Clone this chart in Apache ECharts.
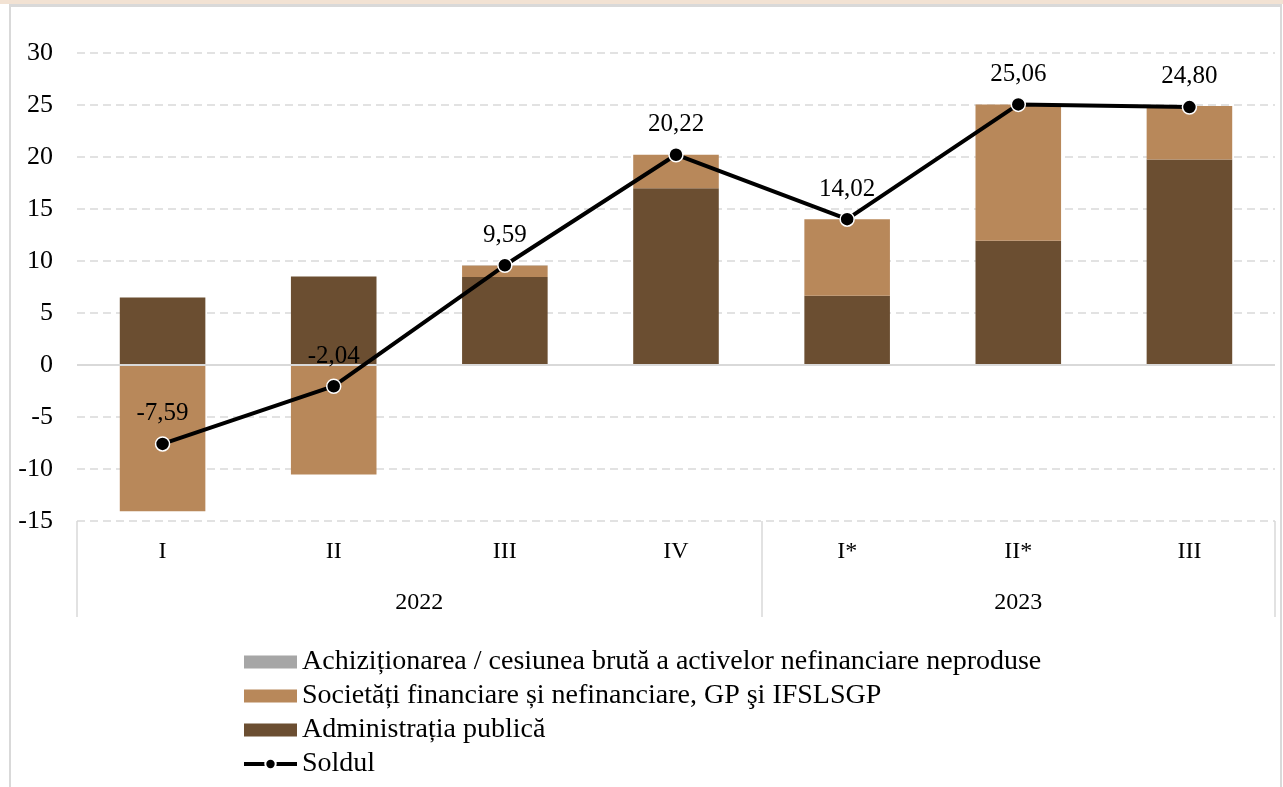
<!DOCTYPE html>
<html>
<head>
<meta charset="utf-8">
<script src="https://cdn.jsdelivr.net/npm/echarts@6/dist/echarts.min.js"></script>
<style>
  html, body { margin: 0; padding: 0; background: #fff; }
  #chart { position: absolute; left: 0; top: 0; width: 1283px; height: 787px; }
  .band { position: absolute; left: 0; top: 0; width: 1283px; height: 4px; background: #f2e2d3; }
  .frame { position: absolute; left: 9px; top: 4px; width: 1269px; height: 800px;
           border-top: 3px solid #d9d9d9; border-left: 2px solid #d9d9d9; border-right: 2px solid #d9d9d9;
           pointer-events: none; }
</style>
</head>
<body>
<div id="chart"></div>
<div class="band"></div>
<div class="frame"></div>
<script>
// trimestre si ani
var quarters = ['I', 'II', 'III', 'IV', 'I*', 'II*', 'III'];
var years = ['2022', '2023'];

// valori (mld. lei)
var administratia = [6.48, 8.50, 8.45, 17.00, 6.65, 11.95, 19.75];
var societati = [-14.07, -10.54, 1.12, 3.22, 7.37, 13.11, 5.15];
var achizitionarea = [0.00, 0.00, 0.02, 0.00, 0.00, 0.00, -0.10];
var soldul = [-7.59, -2.04, 9.59, 20.22, 14.02, 25.06, 24.80];

var yTicks = [-15, 30, 5];

var serif = 'Liberation Serif';

var myChart = echarts.init(document.getElementById('chart'));

var option = {
    animation: false,
    textStyle: { fontFamily: serif },
    grid: { left: 77, right: 8, top: 53, bottom: 266 },
    legend: {
        orient: 'vertical',
        left: 237,
        top: 643,
        itemWidth: 53,
        itemHeight: 13,
        itemGap: 6,
        textStyle: { fontFamily: serif, fontSize: 28, color: '#000' },
        data: [
            { name: 'Achiziționarea / cesiunea brută a activelor nefinanciare neproduse', icon: 'rect' },
            { name: 'Societăți financiare și nefinanciare, GP şi IFSLSGP', icon: 'rect' },
            { name: 'Administrația publică', icon: 'rect' },
            { name: 'Soldul', lineStyle: { width: 4 } }
        ]
    },
    xAxis: [
        {
            type: 'category',
            data: quarters,
            axisLine: { show: false },
            axisTick: { show: false },
            axisLabel: { margin: 19, fontSize: 24, color: '#000', fontFamily: serif }
        },
        {
            type: 'value',
            position: 'bottom',
            min: 0,
            max: 7,
            axisLine: { show: false },
            splitLine: { show: false },
            axisTick: {
                show: true,
                customValues: [0, 4, 7],
                length: 96,
                lineStyle: { color: '#d9d9d9', width: 1.5 }
            },
            axisLabel: {
                customValues: [2, 5.5],
                margin: 70,
                fontSize: 24,
                color: '#000',
                fontFamily: serif,
                formatter: function (v) { return v < 4 ? years[0] : years[1]; }
            }
        }
    ],
    yAxis: {
        type: 'value',
        min: yTicks[0],
        max: yTicks[1],
        interval: yTicks[2],
        axisLine: { show: false },
        axisTick: { show: false },
        axisLabel: { margin: 24, fontSize: 26, color: '#000', fontFamily: serif },
        splitLine: { lineStyle: { color: '#d9d9d9', width: 1.5, type: [8, 5] } }
    },
    series: [
        {
            name: 'Administrația publică',
            type: 'bar',
            stack: 'total',
            barWidth: '50%',
            itemStyle: { color: '#6b4e31' },
            data: administratia,
            markLine: {
                silent: true,
                symbol: 'none',
                label: { show: false },
                lineStyle: { color: '#d9d9d9', width: 2, type: 'solid' },
                data: [{ yAxis: 0 }]
            }
        },
        {
            name: 'Societăți financiare și nefinanciare, GP şi IFSLSGP',
            type: 'bar',
            stack: 'total',
            itemStyle: { color: '#b8885a' },
            data: societati
        },
        {
            name: 'Achiziționarea / cesiunea brută a activelor nefinanciare neproduse',
            type: 'bar',
            stack: 'total',
            itemStyle: { color: '#a6a6a6' },
            data: achizitionarea
        },
        {
            name: 'Soldul',
            type: 'line',
            z: 5,
            symbol: 'circle',
            symbolSize: 14,
            lineStyle: { color: '#000', width: 4 },
            itemStyle: { color: '#000', borderColor: '#fff', borderWidth: 1.5 },
            label: {
                show: true,
                position: 'top',
                distance: 10,
                fontSize: 25,
                color: '#000',
                fontFamily: serif,
                formatter: function (p) { return p.value.toFixed(2).replace('.', ','); }
            },
            data: soldul
        }
    ]
};

myChart.setOption(option);
</script>
</body>
</html>
